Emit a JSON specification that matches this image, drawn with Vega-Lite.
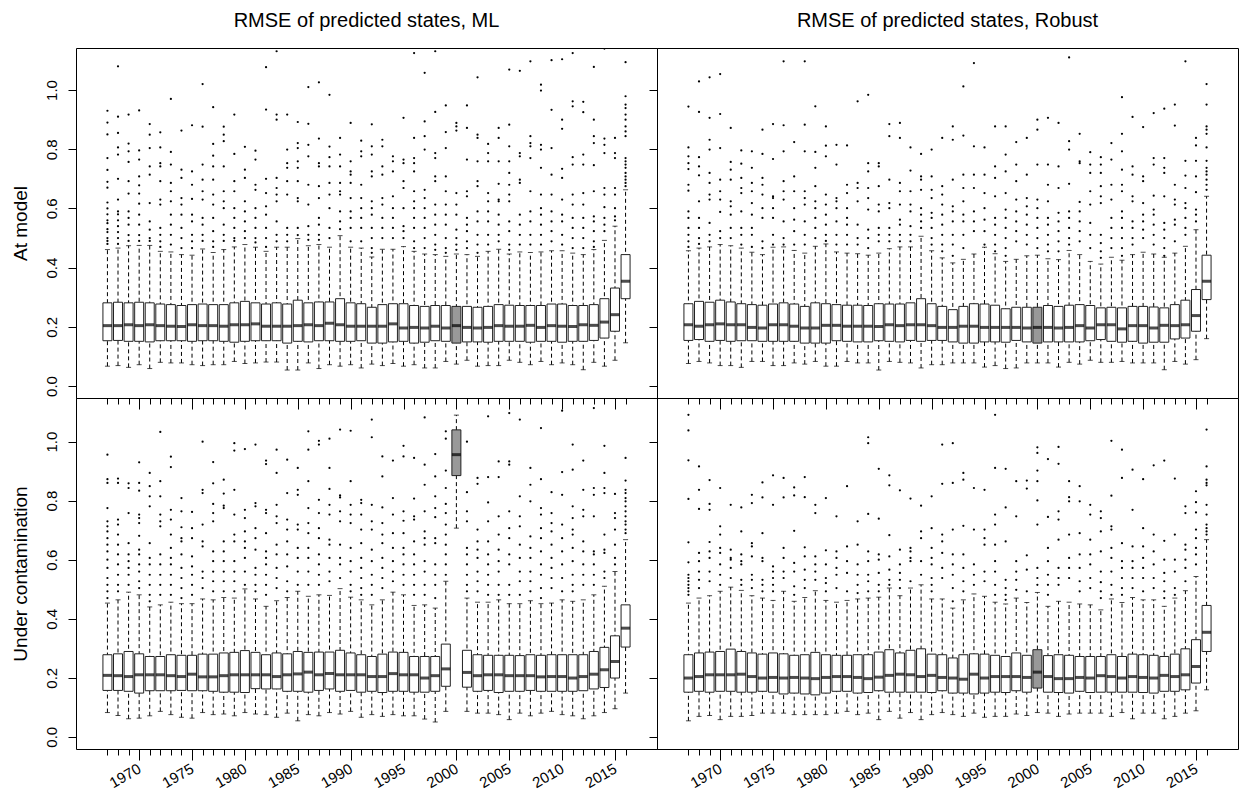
{
"$schema":"https://vega.github.io/schema/vega-lite/v6.json",
"background":"white",
"padding":{"left":10,"top":10,"right":4,"bottom":4},
"columns":2,
"spacing":0,
"bounds":"flush",
"config":{"font":"Liberation Sans","view":{"stroke":"black","strokeWidth":1},
"axis":{"domain":false,"grid":false,"tickColor":"black","labelColor":"black","labelFontSize":15,"titleColor":"black","titleFontWeight":"normal","titleFontSize":19},
"title":{"fontSize":20,"fontWeight":"normal","color":"black"}},
"datasets":{
"tl":[
{"yr":1967,"lo":0.067,"q1":0.153,"md":0.204,"q3":0.281,"hi":0.461,"o":[0.93,0.89,0.85,0.77,0.73,0.69,0.67,0.62,0.60,0.58,0.56,0.55,0.53,0.52,0.50,0.49,0.48]},
{"yr":1968,"lo":0.069,"q1":0.154,"md":0.204,"q3":0.283,"hi":0.466,"o":[1.08,0.91,0.855,0.806,0.782,0.70,0.63,0.59,0.58,0.56,0.54,0.52,0.50,0.48]},
{"yr":1969,"lo":0.063,"q1":0.151,"md":0.207,"q3":0.281,"hi":0.474,"o":[0.917,0.819,0.793,0.757,0.692,0.65,0.59,0.568,0.545,0.51,0.49]},
{"yr":1970,"lo":0.072,"q1":0.151,"md":0.204,"q3":0.283,"hi":0.475,"o":[0.931,0.796,0.765,0.708,0.678,0.65,0.616,0.579,0.545,0.51,0.49]},
{"yr":1971,"lo":0.059,"q1":0.149,"md":0.207,"q3":0.281,"hi":0.475,"o":[0.885,0.849,0.804,0.742,0.714,0.618,0.556,0.528,0.50,0.49]},
{"yr":1972,"lo":0.080,"q1":0.153,"md":0.204,"q3":0.277,"hi":0.455,"o":[0.857,0.806,0.753,0.742,0.692,0.63,0.613,0.534,0.511,0.489,0.47]},
{"yr":1973,"lo":0.078,"q1":0.153,"md":0.202,"q3":0.275,"hi":0.453,"o":[0.97,0.791,0.748,0.686,0.658,0.624,0.579,0.545,0.511,0.478]},
{"yr":1974,"lo":0.078,"q1":0.153,"md":0.201,"q3":0.272,"hi":0.444,"o":[0.863,0.731,0.703,0.635,0.613,0.579,0.534,0.50,0.466]},
{"yr":1975,"lo":0.072,"q1":0.151,"md":0.207,"q3":0.275,"hi":0.442,"o":[0.881,0.725,0.68,0.632,0.579,0.556,0.511,0.489,0.466]},
{"yr":1976,"lo":0.069,"q1":0.153,"md":0.204,"q3":0.277,"hi":0.463,"o":[1.02,0.876,0.748,0.697,0.658,0.63,0.568,0.545,0.511,0.49]},
{"yr":1977,"lo":0.072,"q1":0.153,"md":0.204,"q3":0.275,"hi":0.451,"o":[0.942,0.818,0.778,0.742,0.697,0.647,0.613,0.568,0.523,0.489,0.47]},
{"yr":1978,"lo":0.072,"q1":0.151,"md":0.202,"q3":0.275,"hi":0.461,"o":[0.876,0.849,0.827,0.742,0.658,0.624,0.601,0.545,0.511,0.49]},
{"yr":1979,"lo":0.083,"q1":0.148,"md":0.207,"q3":0.281,"hi":0.470,"o":[0.917,0.784,0.692,0.658,0.601,0.568,0.534,0.50,0.49]},
{"yr":1980,"lo":0.076,"q1":0.151,"md":0.207,"q3":0.286,"hi":0.478,"o":[0.808,0.731,0.703,0.624,0.59,0.556,0.523,0.50]},
{"yr":1981,"lo":0.078,"q1":0.153,"md":0.210,"q3":0.281,"hi":0.469,"o":[0.795,0.765,0.68,0.663,0.601,0.568,0.534,0.50,0.485]},
{"yr":1982,"lo":0.081,"q1":0.153,"md":0.202,"q3":0.277,"hi":0.455,"o":[1.077,0.934,0.70,0.652,0.607,0.579,0.534,0.50,0.47]},
{"yr":1983,"lo":0.081,"q1":0.153,"md":0.202,"q3":0.281,"hi":0.469,"o":[1.131,0.917,0.90,0.703,0.669,0.647,0.624,0.556,0.511,0.489]},
{"yr":1984,"lo":0.054,"q1":0.145,"md":0.202,"q3":0.277,"hi":0.469,"o":[0.917,0.799,0.753,0.737,0.692,0.647,0.534,0.511,0.489]},
{"yr":1985,"lo":0.054,"q1":0.151,"md":0.204,"q3":0.290,"hi":0.498,"o":[0.892,0.821,0.804,0.759,0.737,0.692,0.635,0.624,0.534,0.51]},
{"yr":1986,"lo":0.078,"q1":0.149,"md":0.207,"q3":0.281,"hi":0.474,"o":[1.01,0.886,0.815,0.776,0.68,0.613,0.54,0.511,0.494]},
{"yr":1987,"lo":0.059,"q1":0.153,"md":0.204,"q3":0.284,"hi":0.478,"o":[1.026,0.836,0.753,0.742,0.675,0.635,0.568,0.545,0.511,0.494]},
{"yr":1988,"lo":0.072,"q1":0.153,"md":0.212,"q3":0.284,"hi":0.469,"o":[0.984,0.809,0.773,0.742,0.686,0.647,0.601,0.534,0.50]},
{"yr":1989,"lo":0.067,"q1":0.151,"md":0.207,"q3":0.295,"hi":0.508,"o":[0.838,0.782,0.742,0.686,0.658,0.647,0.59,0.556,0.53]},
{"yr":1990,"lo":0.072,"q1":0.151,"md":0.202,"q3":0.281,"hi":0.469,"o":[0.889,0.759,0.725,0.714,0.686,0.635,0.59,0.568,0.534,0.489]},
{"yr":1991,"lo":0.061,"q1":0.153,"md":0.202,"q3":0.278,"hi":0.466,"o":[0.829,0.793,0.776,0.68,0.635,0.601,0.568,0.534,0.489]},
{"yr":1992,"lo":0.074,"q1":0.145,"md":0.202,"q3":0.266,"hi":0.436,"o":[0.884,0.81,0.782,0.725,0.708,0.624,0.601,0.579,0.534,0.50,0.466,0.45]},
{"yr":1993,"lo":0.069,"q1":0.145,"md":0.202,"q3":0.275,"hi":0.462,"o":[0.832,0.81,0.742,0.714,0.635,0.613,0.568,0.534,0.50]},
{"yr":1994,"lo":0.076,"q1":0.149,"md":0.210,"q3":0.278,"hi":0.462,"o":[0.776,0.759,0.725,0.641,0.601,0.568,0.534,0.50]},
{"yr":1995,"lo":0.067,"q1":0.151,"md":0.196,"q3":0.278,"hi":0.471,"o":[0.906,0.765,0.753,0.692,0.669,0.601,0.54,0.523,0.50]},
{"yr":1996,"lo":0.072,"q1":0.145,"md":0.198,"q3":0.272,"hi":0.455,"o":[1.125,0.838,0.77,0.753,0.725,0.658,0.624,0.601,0.568,0.534,0.489,0.466]},
{"yr":1997,"lo":0.061,"q1":0.148,"md":0.196,"q3":0.269,"hi":0.446,"o":[1.058,0.894,0.844,0.799,0.663,0.635,0.601,0.568,0.534,0.50,0.466]},
{"yr":1998,"lo":0.061,"q1":0.153,"md":0.202,"q3":0.272,"hi":0.444,"o":[1.131,0.926,0.787,0.77,0.708,0.692,0.613,0.579,0.545,0.511,0.478,0.46]},
{"yr":1999,"lo":0.083,"q1":0.151,"md":0.196,"q3":0.272,"hi":0.438,"o":[0.948,0.858,0.804,0.708,0.658,0.613,0.579,0.545,0.50,0.466,0.45]},
{"yr":2000,"lo":0.074,"q1":0.145,"md":0.204,"q3":0.269,"hi":0.446,"o":[0.889,0.877,0.863,0.652,0.613,0.579,0.528,0.50,0.478,0.46]},
{"yr":2001,"lo":0.087,"q1":0.149,"md":0.198,"q3":0.269,"hi":0.444,"o":[0.948,0.872,0.765,0.658,0.641,0.568,0.545,0.523,0.489,0.466]},
{"yr":2002,"lo":0.067,"q1":0.149,"md":0.196,"q3":0.266,"hi":0.438,"o":[1.043,0.849,0.838,0.759,0.692,0.675,0.59,0.556,0.511,0.478,0.45]},
{"yr":2003,"lo":0.069,"q1":0.148,"md":0.198,"q3":0.269,"hi":0.455,"o":[0.818,0.787,0.759,0.652,0.624,0.59,0.556,0.511,0.478]},
{"yr":2004,"lo":0.069,"q1":0.151,"md":0.204,"q3":0.275,"hi":0.462,"o":[0.872,0.838,0.759,0.683,0.63,0.624,0.579,0.545,0.511,0.489]},
{"yr":2005,"lo":0.087,"q1":0.151,"md":0.202,"q3":0.273,"hi":0.446,"o":[1.069,0.883,0.81,0.759,0.72,0.68,0.647,0.624,0.556,0.523,0.478,0.46]},
{"yr":2006,"lo":0.080,"q1":0.151,"md":0.202,"q3":0.272,"hi":0.453,"o":[1.065,0.787,0.776,0.697,0.686,0.579,0.545,0.511,0.478]},
{"yr":2007,"lo":0.072,"q1":0.148,"md":0.205,"q3":0.272,"hi":0.451,"o":[1.097,0.844,0.821,0.81,0.77,0.658,0.59,0.556,0.511,0.478]},
{"yr":2008,"lo":0.083,"q1":0.151,"md":0.198,"q3":0.272,"hi":0.453,"o":[1.018,0.998,0.815,0.799,0.737,0.647,0.601,0.579,0.545,0.511,0.478]},
{"yr":2009,"lo":0.072,"q1":0.151,"md":0.204,"q3":0.277,"hi":0.457,"o":[1.101,0.933,0.804,0.714,0.647,0.59,0.556,0.523,0.489]},
{"yr":2010,"lo":0.078,"q1":0.148,"md":0.202,"q3":0.277,"hi":0.457,"o":[1.104,0.90,0.869,0.734,0.703,0.63,0.579,0.556,0.511,0.478]},
{"yr":2011,"lo":0.072,"q1":0.151,"md":0.201,"q3":0.272,"hi":0.449,"o":[1.125,0.962,0.945,0.773,0.748,0.647,0.613,0.568,0.534,0.50,0.466]},
{"yr":2012,"lo":0.055,"q1":0.151,"md":0.207,"q3":0.272,"hi":0.444,"o":[0.96,0.925,0.782,0.748,0.652,0.613,0.568,0.534,0.50,0.466]},
{"yr":2013,"lo":0.080,"q1":0.154,"md":0.205,"q3":0.275,"hi":0.461,"o":[1.078,0.90,0.844,0.821,0.746,0.658,0.573,0.556,0.523,0.489,0.47]},
{"yr":2014,"lo":0.067,"q1":0.162,"md":0.216,"q3":0.295,"hi":0.492,"o":[1.14,0.836,0.815,0.787,0.669,0.647,0.604,0.568,0.545,0.523]},
{"yr":2015,"lo":0.087,"q1":0.185,"md":0.241,"q3":0.331,"hi":0.540,"o":[0.838,0.787,0.77,0.669,0.647,0.601,0.573,0.56]},
{"yr":2016,"lo":0.146,"q1":0.295,"md":0.354,"q3":0.444,"hi":0.663,"o":[1.094,0.979,0.951,0.939,0.917,0.90,0.877,0.86,0.844,0.77,0.759,0.748,0.737,0.72,0.708,0.697,0.686,0.675]}
],
"tr":[
{"yr":1967,"lo":0.076,"q1":0.154,"md":0.207,"q3":0.278,"hi":0.457,"o":[0.944,0.806,0.776,0.753,0.733,0.68,0.66,0.59,0.568,0.534,0.511,0.489,0.47]},
{"yr":1968,"lo":0.083,"q1":0.157,"md":0.202,"q3":0.286,"hi":0.466,"o":[1.029,0.926,0.773,0.742,0.712,0.624,0.568,0.534,0.50,0.48]},
{"yr":1969,"lo":0.078,"q1":0.151,"md":0.207,"q3":0.283,"hi":0.470,"o":[1.043,0.906,0.832,0.799,0.72,0.686,0.647,0.63,0.551,0.511,0.489]},
{"yr":1970,"lo":0.069,"q1":0.154,"md":0.210,"q3":0.290,"hi":0.478,"o":[1.054,0.919,0.804,0.697,0.658,0.63,0.588,0.523,0.50]},
{"yr":1971,"lo":0.069,"q1":0.151,"md":0.207,"q3":0.284,"hi":0.474,"o":[0.872,0.757,0.731,0.697,0.624,0.607,0.579,0.534,0.50]},
{"yr":1972,"lo":0.063,"q1":0.153,"md":0.207,"q3":0.278,"hi":0.466,"o":[0.796,0.751,0.703,0.669,0.652,0.59,0.534,0.511,0.478]},
{"yr":1973,"lo":0.083,"q1":0.153,"md":0.198,"q3":0.275,"hi":0.452,"o":[0.793,0.737,0.686,0.658,0.618,0.579,0.534,0.511,0.47]},
{"yr":1974,"lo":0.083,"q1":0.151,"md":0.196,"q3":0.273,"hi":0.444,"o":[0.866,0.784,0.703,0.68,0.647,0.601,0.568,0.489,0.466]},
{"yr":1975,"lo":0.069,"q1":0.151,"md":0.207,"q3":0.277,"hi":0.469,"o":[0.885,0.767,0.641,0.635,0.601,0.568,0.511,0.478]},
{"yr":1976,"lo":0.069,"q1":0.151,"md":0.207,"q3":0.281,"hi":0.470,"o":[1.097,0.881,0.793,0.692,0.658,0.63,0.556,0.50,0.478]},
{"yr":1977,"lo":0.078,"q1":0.151,"md":0.202,"q3":0.277,"hi":0.458,"o":[0.824,0.708,0.658,0.601,0.562,0.523,0.478]},
{"yr":1978,"lo":0.074,"q1":0.145,"md":0.196,"q3":0.269,"hi":0.449,"o":[1.097,0.883,0.793,0.658,0.635,0.613,0.556,0.511,0.478]},
{"yr":1979,"lo":0.083,"q1":0.145,"md":0.196,"q3":0.281,"hi":0.472,"o":[0.945,0.791,0.737,0.675,0.624,0.601,0.568,0.534,0.50]},
{"yr":1980,"lo":0.067,"q1":0.145,"md":0.205,"q3":0.278,"hi":0.480,"o":[0.877,0.812,0.776,0.647,0.613,0.579,0.545,0.511,0.49]},
{"yr":1981,"lo":0.067,"q1":0.153,"md":0.205,"q3":0.275,"hi":0.453,"o":[0.815,0.748,0.635,0.624,0.601,0.556,0.511,0.478]},
{"yr":1982,"lo":0.083,"q1":0.151,"md":0.202,"q3":0.273,"hi":0.449,"o":[0.813,0.68,0.652,0.601,0.568,0.545,0.511,0.478]},
{"yr":1983,"lo":0.078,"q1":0.149,"md":0.202,"q3":0.273,"hi":0.447,"o":[0.962,0.686,0.669,0.624,0.545,0.50,0.478]},
{"yr":1984,"lo":0.078,"q1":0.149,"md":0.202,"q3":0.272,"hi":0.442,"o":[0.984,0.753,0.725,0.669,0.635,0.596,0.528,0.50,0.466]},
{"yr":1985,"lo":0.054,"q1":0.153,"md":0.201,"q3":0.278,"hi":0.449,"o":[0.753,0.742,0.675,0.613,0.59,0.534,0.511,0.489]},
{"yr":1986,"lo":0.083,"q1":0.151,"md":0.207,"q3":0.277,"hi":0.464,"o":[0.885,0.844,0.697,0.618,0.601,0.534,0.511,0.489]},
{"yr":1987,"lo":0.080,"q1":0.149,"md":0.204,"q3":0.277,"hi":0.470,"o":[0.889,0.838,0.686,0.658,0.613,0.562,0.545,0.511,0.489]},
{"yr":1988,"lo":0.078,"q1":0.154,"md":0.207,"q3":0.281,"hi":0.470,"o":[0.806,0.728,0.658,0.613,0.59,0.54,0.511,0.489]},
{"yr":1989,"lo":0.061,"q1":0.151,"md":0.207,"q3":0.295,"hi":0.506,"o":[0.784,0.708,0.697,0.663,0.601,0.579,0.556,0.534]},
{"yr":1990,"lo":0.072,"q1":0.154,"md":0.204,"q3":0.278,"hi":0.457,"o":[0.799,0.708,0.663,0.635,0.585,0.568,0.534,0.50,0.478]},
{"yr":1991,"lo":0.072,"q1":0.154,"md":0.198,"q3":0.269,"hi":0.433,"o":[0.838,0.675,0.647,0.613,0.579,0.545,0.511,0.478,0.455]},
{"yr":1992,"lo":0.078,"q1":0.149,"md":0.198,"q3":0.258,"hi":0.416,"o":[0.877,0.832,0.697,0.607,0.59,0.556,0.511,0.478,0.44]},
{"yr":1993,"lo":0.078,"q1":0.145,"md":0.202,"q3":0.269,"hi":0.428,"o":[1.012,0.846,0.714,0.669,0.624,0.579,0.556,0.511,0.466]},
{"yr":1994,"lo":0.078,"q1":0.145,"md":0.202,"q3":0.278,"hi":0.446,"o":[1.091,0.81,0.714,0.669,0.59,0.556,0.523]},
{"yr":1995,"lo":0.064,"q1":0.149,"md":0.198,"q3":0.277,"hi":0.469,"o":[0.806,0.714,0.652,0.601,0.562,0.523,0.478]},
{"yr":1996,"lo":0.069,"q1":0.149,"md":0.198,"q3":0.273,"hi":0.447,"o":[0.877,0.742,0.703,0.641,0.568,0.545,0.511,0.478,0.455]},
{"yr":1997,"lo":0.059,"q1":0.148,"md":0.198,"q3":0.261,"hi":0.421,"o":[0.877,0.782,0.725,0.652,0.596,0.568,0.534,0.50,0.466,0.44]},
{"yr":1998,"lo":0.061,"q1":0.154,"md":0.198,"q3":0.266,"hi":0.428,"o":[0.824,0.748,0.692,0.63,0.59,0.556,0.523,0.489]},
{"yr":1999,"lo":0.078,"q1":0.149,"md":0.196,"q3":0.266,"hi":0.440,"o":[0.838,0.714,0.635,0.607,0.579,0.545,0.511,0.478]},
{"yr":2000,"lo":0.078,"q1":0.145,"md":0.198,"q3":0.266,"hi":0.442,"o":[0.90,0.866,0.748,0.63,0.601,0.568,0.534,0.50,0.466]},
{"yr":2001,"lo":0.078,"q1":0.149,"md":0.198,"q3":0.272,"hi":0.430,"o":[0.906,0.748,0.68,0.624,0.568,0.545,0.511,0.478,0.455]},
{"yr":2002,"lo":0.064,"q1":0.149,"md":0.196,"q3":0.269,"hi":0.427,"o":[0.889,0.742,0.669,0.585,0.556,0.523,0.489,0.455]},
{"yr":2003,"lo":0.080,"q1":0.149,"md":0.198,"q3":0.273,"hi":0.458,"o":[1.11,0.827,0.799,0.683,0.59,0.568,0.534,0.50,0.478]},
{"yr":2004,"lo":0.074,"q1":0.149,"md":0.204,"q3":0.275,"hi":0.444,"o":[0.852,0.759,0.753,0.622,0.59,0.556,0.523,0.489]},
{"yr":2005,"lo":0.087,"q1":0.153,"md":0.196,"q3":0.272,"hi":0.421,"o":[0.79,0.748,0.72,0.658,0.613,0.551,0.511,0.466]},
{"yr":2006,"lo":0.080,"q1":0.157,"md":0.207,"q3":0.264,"hi":0.412,"o":[0.773,0.748,0.72,0.675,0.641,0.618,0.511,0.483,0.455,0.433]},
{"yr":2007,"lo":0.080,"q1":0.151,"md":0.207,"q3":0.266,"hi":0.435,"o":[0.821,0.765,0.68,0.63,0.568,0.534,0.50,0.466]},
{"yr":2008,"lo":0.083,"q1":0.148,"md":0.193,"q3":0.264,"hi":0.425,"o":[0.976,0.852,0.793,0.731,0.68,0.658,0.59,0.568,0.534,0.50,0.466,0.44]},
{"yr":2009,"lo":0.078,"q1":0.151,"md":0.204,"q3":0.269,"hi":0.444,"o":[0.909,0.742,0.714,0.641,0.624,0.556,0.534,0.50,0.478]},
{"yr":2010,"lo":0.078,"q1":0.145,"md":0.204,"q3":0.269,"hi":0.452,"o":[0.875,0.708,0.692,0.618,0.579,0.556,0.528,0.50]},
{"yr":2011,"lo":0.078,"q1":0.148,"md":0.196,"q3":0.267,"hi":0.446,"o":[0.922,0.77,0.748,0.643,0.596,0.579,0.545,0.511,0.478]},
{"yr":2012,"lo":0.055,"q1":0.148,"md":0.205,"q3":0.264,"hi":0.435,"o":[0.937,0.77,0.737,0.72,0.641,0.551,0.528,0.50,0.466,0.44]},
{"yr":2013,"lo":0.083,"q1":0.159,"md":0.204,"q3":0.275,"hi":0.449,"o":[0.951,0.88,0.68,0.63,0.613,0.562,0.545,0.489]},
{"yr":2014,"lo":0.074,"q1":0.162,"md":0.207,"q3":0.290,"hi":0.472,"o":[1.097,0.761,0.711,0.669,0.618,0.601,0.568,0.534,0.511]},
{"yr":2015,"lo":0.089,"q1":0.185,"md":0.238,"q3":0.326,"hi":0.528,"o":[0.838,0.813,0.761,0.708,0.655,0.596,0.579,0.556]},
{"yr":2016,"lo":0.160,"q1":0.292,"md":0.354,"q3":0.442,"hi":0.641,"o":[1.02,0.951,0.877,0.866,0.852,0.806,0.761,0.737,0.725,0.714,0.697,0.68,0.663]}
],
"bl":[
{"yr":1967,"lo":0.082,"q1":0.157,"md":0.208,"q3":0.278,"hi":0.453,"o":[0.956,0.873,0.86,0.775,0.73,0.713,0.696,0.673,0.651,0.628,0.60,0.572,0.538,0.515,0.493,0.47]},
{"yr":1968,"lo":0.072,"q1":0.157,"md":0.207,"q3":0.281,"hi":0.464,"o":[0.875,0.86,0.736,0.719,0.685,0.651,0.618,0.584,0.549,0.515,0.493]},
{"yr":1969,"lo":0.061,"q1":0.154,"md":0.204,"q3":0.289,"hi":0.490,"o":[0.859,0.843,0.758,0.656,0.618,0.595,0.572,0.549,0.515]},
{"yr":1970,"lo":0.063,"q1":0.148,"md":0.210,"q3":0.281,"hi":0.481,"o":[0.93,0.86,0.834,0.753,0.741,0.724,0.681,0.634,0.618,0.584,0.56,0.527,0.504]},
{"yr":1971,"lo":0.071,"q1":0.156,"md":0.210,"q3":0.272,"hi":0.440,"o":[0.894,0.849,0.815,0.781,0.656,0.606,0.584,0.549,0.515,0.481,0.459]},
{"yr":1972,"lo":0.086,"q1":0.156,"md":0.210,"q3":0.272,"hi":0.447,"o":[1.033,0.866,0.815,0.753,0.73,0.713,0.618,0.584,0.549,0.515,0.481]},
{"yr":1973,"lo":0.075,"q1":0.156,"md":0.207,"q3":0.278,"hi":0.456,"o":[0.949,0.914,0.769,0.736,0.685,0.64,0.606,0.584,0.549,0.515,0.481]},
{"yr":1974,"lo":0.066,"q1":0.157,"md":0.204,"q3":0.276,"hi":0.451,"o":[0.809,0.764,0.71,0.673,0.662,0.618,0.572,0.538,0.504,0.47]},
{"yr":1975,"lo":0.063,"q1":0.156,"md":0.212,"q3":0.276,"hi":0.451,"o":[0.762,0.707,0.673,0.611,0.577,0.549,0.515,0.481]},
{"yr":1976,"lo":0.082,"q1":0.156,"md":0.203,"q3":0.280,"hi":0.467,"o":[1.0,0.837,0.826,0.719,0.662,0.645,0.56,0.538,0.504]},
{"yr":1977,"lo":0.075,"q1":0.154,"md":0.203,"q3":0.280,"hi":0.464,"o":[0.931,0.859,0.789,0.758,0.73,0.628,0.595,0.56,0.527,0.493]},
{"yr":1978,"lo":0.077,"q1":0.151,"md":0.207,"q3":0.284,"hi":0.472,"o":[0.871,0.824,0.783,0.775,0.662,0.628,0.595,0.56,0.527,0.493]},
{"yr":1979,"lo":0.071,"q1":0.151,"md":0.210,"q3":0.286,"hi":0.470,"o":[0.995,0.97,0.837,0.753,0.685,0.662,0.595,0.56,0.527,0.493]},
{"yr":1980,"lo":0.082,"q1":0.150,"md":0.210,"q3":0.292,"hi":0.501,"o":[0.975,0.769,0.741,0.696,0.662,0.64,0.606,0.56,0.515]},
{"yr":1981,"lo":0.077,"q1":0.163,"md":0.210,"q3":0.286,"hi":0.467,"o":[0.99,0.792,0.781,0.707,0.673,0.634,0.572,0.549,0.515,0.493]},
{"yr":1982,"lo":0.075,"q1":0.162,"md":0.210,"q3":0.278,"hi":0.442,"o":[0.936,0.924,0.769,0.758,0.69,0.628,0.606,0.584,0.549,0.515,0.481]},
{"yr":1983,"lo":0.066,"q1":0.162,"md":0.204,"q3":0.284,"hi":0.461,"o":[0.973,0.894,0.786,0.747,0.724,0.651,0.618,0.572,0.538,0.504]},
{"yr":1984,"lo":0.080,"q1":0.154,"md":0.210,"q3":0.281,"hi":0.472,"o":[0.939,0.826,0.736,0.702,0.662,0.618,0.577,0.527,0.493]},
{"yr":1985,"lo":0.054,"q1":0.154,"md":0.213,"q3":0.289,"hi":0.493,"o":[0.911,0.837,0.82,0.719,0.702,0.64,0.606,0.56,0.515]},
{"yr":1986,"lo":0.075,"q1":0.151,"md":0.219,"q3":0.286,"hi":0.476,"o":[1.035,0.973,0.866,0.775,0.724,0.69,0.64,0.606,0.56,0.515]},
{"yr":1987,"lo":0.071,"q1":0.157,"md":0.210,"q3":0.287,"hi":0.481,"o":[1.003,0.99,0.803,0.758,0.707,0.673,0.618,0.584,0.549,0.515]},
{"yr":1988,"lo":0.082,"q1":0.162,"md":0.214,"q3":0.287,"hi":0.479,"o":[1.01,0.911,0.84,0.786,0.753,0.668,0.651,0.606,0.56,0.527]},
{"yr":1989,"lo":0.077,"q1":0.154,"md":0.210,"q3":0.293,"hi":0.502,"o":[1.041,0.818,0.811,0.764,0.73,0.651,0.606,0.584,0.538]},
{"yr":1990,"lo":0.086,"q1":0.157,"md":0.210,"q3":0.284,"hi":0.473,"o":[1.037,0.866,0.786,0.753,0.724,0.64,0.595,0.56,0.515,0.493]},
{"yr":1991,"lo":0.066,"q1":0.151,"md":0.210,"q3":0.278,"hi":0.464,"o":[0.803,0.792,0.753,0.702,0.656,0.606,0.572,0.538,0.504,0.481]},
{"yr":1992,"lo":0.075,"q1":0.154,"md":0.204,"q3":0.272,"hi":0.447,"o":[1.075,1.015,0.786,0.73,0.702,0.634,0.595,0.549,0.515,0.481]},
{"yr":1993,"lo":0.069,"q1":0.150,"md":0.204,"q3":0.280,"hi":0.464,"o":[0.95,0.882,0.777,0.724,0.685,0.656,0.606,0.572,0.538,0.504]},
{"yr":1994,"lo":0.075,"q1":0.154,"md":0.214,"q3":0.287,"hi":0.490,"o":[0.936,0.809,0.753,0.69,0.64,0.595,0.56,0.527]},
{"yr":1995,"lo":0.071,"q1":0.154,"md":0.210,"q3":0.286,"hi":0.481,"o":[0.986,0.95,0.764,0.732,0.69,0.64,0.618,0.584,0.549,0.515]},
{"yr":1996,"lo":0.071,"q1":0.151,"md":0.210,"q3":0.272,"hi":0.445,"o":[0.945,0.807,0.747,0.736,0.662,0.618,0.584,0.549,0.515,0.481]},
{"yr":1997,"lo":0.060,"q1":0.151,"md":0.199,"q3":0.272,"hi":0.447,"o":[1.082,0.922,0.854,0.764,0.696,0.673,0.651,0.595,0.56,0.515,0.481]},
{"yr":1998,"lo":0.050,"q1":0.154,"md":0.207,"q3":0.272,"hi":0.436,"o":[0.958,0.882,0.815,0.775,0.744,0.673,0.656,0.584,0.549,0.515,0.47]},
{"yr":1999,"lo":0.086,"q1":0.171,"md":0.230,"q3":0.314,"hi":0.527,"o":[1.035,1.01,0.902,0.843,0.789,0.758,0.719,0.685,0.651,0.618,0.584,0.549]},
{"yr":2000,"lo":0.707,"q1":0.885,"md":0.956,"q3":1.04,"hi":1.09,"o":[]},
{"yr":2001,"lo":0.086,"q1":0.168,"md":0.218,"q3":0.293,"hi":0.470,"o":[1.0,0.829,0.764,0.73,0.64,0.618,0.584,0.549,0.515,0.493]},
{"yr":2002,"lo":0.080,"q1":0.154,"md":0.207,"q3":0.278,"hi":0.456,"o":[0.877,0.857,0.702,0.662,0.634,0.606,0.56,0.527,0.493]},
{"yr":2003,"lo":0.080,"q1":0.157,"md":0.210,"q3":0.276,"hi":0.456,"o":[1.086,0.88,0.794,0.73,0.662,0.618,0.584,0.549,0.515,0.481]},
{"yr":2004,"lo":0.075,"q1":0.150,"md":0.210,"q3":0.276,"hi":0.464,"o":[0.933,0.88,0.747,0.685,0.634,0.595,0.56,0.515,0.481]},
{"yr":2005,"lo":0.058,"q1":0.154,"md":0.207,"q3":0.276,"hi":0.451,"o":[1.097,0.933,0.922,0.764,0.707,0.673,0.618,0.584,0.515,0.481]},
{"yr":2006,"lo":0.080,"q1":0.154,"md":0.207,"q3":0.275,"hi":0.451,"o":[1.075,0.815,0.747,0.713,0.651,0.606,0.56,0.527,0.481]},
{"yr":2007,"lo":0.071,"q1":0.157,"md":0.207,"q3":0.278,"hi":0.461,"o":[0.911,0.854,0.798,0.679,0.64,0.606,0.56,0.527,0.493]},
{"yr":2008,"lo":0.080,"q1":0.154,"md":0.203,"q3":0.276,"hi":0.451,"o":[1.046,0.873,0.775,0.753,0.707,0.673,0.628,0.584,0.549,0.504,0.47]},
{"yr":2009,"lo":0.086,"q1":0.154,"md":0.204,"q3":0.278,"hi":0.453,"o":[0.829,0.758,0.724,0.696,0.651,0.606,0.572,0.538,0.504]},
{"yr":2010,"lo":0.075,"q1":0.154,"md":0.204,"q3":0.278,"hi":0.464,"o":[1.105,0.897,0.82,0.719,0.673,0.628,0.584,0.538,0.493]},
{"yr":2011,"lo":0.071,"q1":0.154,"md":0.199,"q3":0.278,"hi":0.459,"o":[0.99,0.905,0.781,0.741,0.702,0.685,0.64,0.595,0.549,0.515,0.493]},
{"yr":2012,"lo":0.061,"q1":0.156,"md":0.204,"q3":0.278,"hi":0.464,"o":[0.936,0.837,0.769,0.747,0.662,0.628,0.584,0.549,0.515]},
{"yr":2013,"lo":0.071,"q1":0.162,"md":0.212,"q3":0.289,"hi":0.481,"o":[1.114,0.843,0.82,0.747,0.628,0.618,0.584,0.549,0.515]},
{"yr":2014,"lo":0.082,"q1":0.167,"md":0.227,"q3":0.303,"hi":0.510,"o":[0.986,0.894,0.843,0.826,0.685,0.634,0.623,0.56,0.538]},
{"yr":2015,"lo":0.095,"q1":0.199,"md":0.255,"q3":0.342,"hi":0.560,"o":[0.823,0.758,0.741,0.702,0.651,0.606,0.584]},
{"yr":2016,"lo":0.148,"q1":0.304,"md":0.368,"q3":0.447,"hi":0.668,"o":[0.945,0.868,0.837,0.826,0.809,0.798,0.781,0.764,0.747,0.73,0.719,0.702,0.69]}
],
"br":[
{"yr":1967,"lo":0.054,"q1":0.151,"md":0.199,"q3":0.278,"hi":0.453,"o":[1.091,1.038,0.937,0.806,0.659,0.591,0.549,0.538,0.527,0.515,0.504,0.493,0.481]},
{"yr":1968,"lo":0.069,"q1":0.154,"md":0.204,"q3":0.284,"hi":0.470,"o":[0.916,0.837,0.772,0.623,0.595,0.56,0.532,0.504]},
{"yr":1969,"lo":0.072,"q1":0.151,"md":0.210,"q3":0.287,"hi":0.478,"o":[0.87,0.789,0.769,0.66,0.628,0.606,0.56,0.527]},
{"yr":1970,"lo":0.058,"q1":0.154,"md":0.210,"q3":0.289,"hi":0.493,"o":[0.843,0.713,0.685,0.64,0.623,0.584,0.549,0.515]},
{"yr":1971,"lo":0.069,"q1":0.154,"md":0.210,"q3":0.297,"hi":0.507,"o":[0.786,0.634,0.606,0.60,0.572,0.538]},
{"yr":1972,"lo":0.069,"q1":0.151,"md":0.212,"q3":0.289,"hi":0.496,"o":[0.777,0.696,0.618,0.595,0.584,0.532,0.515]},
{"yr":1973,"lo":0.072,"q1":0.151,"md":0.204,"q3":0.284,"hi":0.478,"o":[0.82,0.792,0.656,0.645,0.611,0.549,0.532,0.504]},
{"yr":1974,"lo":0.080,"q1":0.154,"md":0.199,"q3":0.280,"hi":0.470,"o":[0.862,0.811,0.69,0.606,0.595,0.532,0.515,0.493]},
{"yr":1975,"lo":0.080,"q1":0.151,"md":0.201,"q3":0.284,"hi":0.462,"o":[0.886,0.786,0.577,0.56,0.538,0.515,0.493]},
{"yr":1976,"lo":0.080,"q1":0.145,"md":0.199,"q3":0.281,"hi":0.493,"o":[0.877,0.811,0.64,0.606,0.56,0.538]},
{"yr":1977,"lo":0.075,"q1":0.148,"md":0.201,"q3":0.276,"hi":0.459,"o":[0.845,0.818,0.698,0.589,0.56,0.51,0.481]},
{"yr":1978,"lo":0.075,"q1":0.145,"md":0.199,"q3":0.278,"hi":0.472,"o":[0.88,0.812,0.642,0.611,0.566,0.532,0.504]},
{"yr":1979,"lo":0.075,"q1":0.142,"md":0.197,"q3":0.286,"hi":0.495,"o":[0.786,0.758,0.611,0.584,0.56,0.532]},
{"yr":1980,"lo":0.075,"q1":0.148,"md":0.201,"q3":0.278,"hi":0.462,"o":[0.809,0.632,0.584,0.538,0.521,0.493]},
{"yr":1981,"lo":0.080,"q1":0.154,"md":0.204,"q3":0.276,"hi":0.456,"o":[0.747,0.628,0.606,0.572,0.549,0.504]},
{"yr":1982,"lo":0.086,"q1":0.154,"md":0.204,"q3":0.276,"hi":0.462,"o":[0.849,0.645,0.595,0.555,0.493]},
{"yr":1983,"lo":0.075,"q1":0.148,"md":0.201,"q3":0.278,"hi":0.467,"o":[0.73,0.651,0.584,0.549,0.515,0.487]},
{"yr":1984,"lo":0.080,"q1":0.150,"md":0.197,"q3":0.278,"hi":0.470,"o":[1.015,0.995,0.755,0.628,0.595,0.549,0.527,0.493]},
{"yr":1985,"lo":0.058,"q1":0.156,"md":0.202,"q3":0.287,"hi":0.473,"o":[0.908,0.739,0.618,0.60,0.555,0.515,0.493]},
{"yr":1986,"lo":0.086,"q1":0.151,"md":0.208,"q3":0.295,"hi":0.504,"o":[0.886,0.852,0.683,0.611,0.566,0.532,0.515]},
{"yr":1987,"lo":0.063,"q1":0.151,"md":0.212,"q3":0.284,"hi":0.478,"o":[0.835,0.634,0.584,0.555,0.532,0.504]},
{"yr":1988,"lo":0.082,"q1":0.151,"md":0.210,"q3":0.293,"hi":0.504,"o":[0.807,0.64,0.628,0.606,0.595,0.527]},
{"yr":1989,"lo":0.058,"q1":0.151,"md":0.204,"q3":0.298,"hi":0.515,"o":[0.783,0.696,0.673,0.595,0.549]},
{"yr":1990,"lo":0.075,"q1":0.150,"md":0.208,"q3":0.280,"hi":0.467,"o":[0.815,0.707,0.64,0.606,0.584,0.538,0.515,0.493]},
{"yr":1991,"lo":0.082,"q1":0.156,"md":0.201,"q3":0.278,"hi":0.467,"o":[0.99,0.857,0.685,0.662,0.623,0.572,0.538]},
{"yr":1992,"lo":0.075,"q1":0.148,"md":0.199,"q3":0.267,"hi":0.436,"o":[0.995,0.86,0.702,0.618,0.584,0.549,0.504,0.459]},
{"yr":1993,"lo":0.069,"q1":0.148,"md":0.195,"q3":0.278,"hi":0.464,"o":[0.894,0.871,0.715,0.618,0.572,0.527,0.493]},
{"yr":1994,"lo":0.080,"q1":0.145,"md":0.212,"q3":0.281,"hi":0.484,"o":[0.843,0.702,0.584,0.549,0.515]},
{"yr":1995,"lo":0.066,"q1":0.148,"md":0.199,"q3":0.280,"hi":0.476,"o":[0.837,0.702,0.673,0.651,0.56,0.527]},
{"yr":1996,"lo":0.069,"q1":0.151,"md":0.204,"q3":0.276,"hi":0.456,"o":[1.091,0.911,0.753,0.719,0.651,0.595,0.56,0.515,0.481]},
{"yr":1997,"lo":0.069,"q1":0.150,"md":0.204,"q3":0.272,"hi":0.450,"o":[0.908,0.777,0.662,0.532,0.504,0.481,0.464]},
{"yr":1998,"lo":0.077,"q1":0.156,"md":0.204,"q3":0.284,"hi":0.470,"o":[0.866,0.747,0.595,0.56,0.532,0.498]},
{"yr":1999,"lo":0.072,"q1":0.151,"md":0.201,"q3":0.276,"hi":0.455,"o":[0.868,0.841,0.615,0.566,0.493]},
{"yr":2000,"lo":0.082,"q1":0.165,"md":0.219,"q3":0.295,"hi":0.489,"o":[0.981,0.962,0.902,0.866,0.801,0.719,0.572,0.538,0.515]},
{"yr":2001,"lo":0.080,"q1":0.151,"md":0.204,"q3":0.275,"hi":0.442,"o":[0.941,0.745,0.64,0.595,0.549,0.515,0.481]},
{"yr":2002,"lo":0.069,"q1":0.150,"md":0.197,"q3":0.278,"hi":0.459,"o":[0.982,0.925,0.764,0.736,0.668,0.572,0.538,0.515]},
{"yr":2003,"lo":0.077,"q1":0.148,"md":0.197,"q3":0.276,"hi":0.456,"o":[0.866,0.812,0.798,0.685,0.606,0.572,0.538]},
{"yr":2004,"lo":0.080,"q1":0.154,"md":0.201,"q3":0.272,"hi":0.450,"o":[0.849,0.798,0.69,0.618,0.572,0.527,0.493]},
{"yr":2005,"lo":0.080,"q1":0.150,"md":0.199,"q3":0.272,"hi":0.447,"o":[0.786,0.753,0.668,0.618,0.584,0.538,0.504]},
{"yr":2006,"lo":0.080,"q1":0.151,"md":0.207,"q3":0.272,"hi":0.430,"o":[0.764,0.741,0.696,0.628,0.56,0.524,0.493,0.47]},
{"yr":2007,"lo":0.069,"q1":0.151,"md":0.204,"q3":0.278,"hi":0.467,"o":[1.003,0.817,0.713,0.702,0.64,0.606,0.56,0.515,0.481]},
{"yr":2008,"lo":0.082,"q1":0.151,"md":0.199,"q3":0.272,"hi":0.455,"o":[0.973,0.877,0.656,0.595,0.572,0.538,0.504,0.481]},
{"yr":2009,"lo":0.061,"q1":0.151,"md":0.204,"q3":0.280,"hi":0.472,"o":[0.905,0.769,0.645,0.595,0.572,0.538,0.504]},
{"yr":2010,"lo":0.080,"q1":0.150,"md":0.201,"q3":0.278,"hi":0.464,"o":[0.873,0.707,0.645,0.606,0.572,0.538,0.493]},
{"yr":2011,"lo":0.080,"q1":0.148,"md":0.199,"q3":0.276,"hi":0.464,"o":[0.92,0.685,0.628,0.584,0.538,0.504]},
{"yr":2012,"lo":0.061,"q1":0.154,"md":0.208,"q3":0.272,"hi":0.442,"o":[0.936,0.664,0.60,0.555,0.527,0.493,0.47]},
{"yr":2013,"lo":0.069,"q1":0.154,"md":0.204,"q3":0.280,"hi":0.470,"o":[0.875,0.685,0.60,0.56,0.504,0.481]},
{"yr":2014,"lo":0.080,"q1":0.159,"md":0.210,"q3":0.298,"hi":0.495,"o":[0.781,0.758,0.651,0.634,0.60,0.572,0.527]},
{"yr":2015,"lo":0.088,"q1":0.182,"md":0.238,"q3":0.329,"hi":0.543,"o":[0.832,0.795,0.76,0.702,0.673,0.64,0.618,0.584]},
{"yr":2016,"lo":0.159,"q1":0.289,"md":0.354,"q3":0.445,"hi":0.668,"o":[1.041,0.916,0.871,0.86,0.852,0.786,0.753,0.719,0.707,0.696,0.685]}
]
},
"concat":[
{"width":581,"height":350,"title":{"text":"RMSE of predicted states, ML","offset":17},"data":{"name":"tl"},
"encoding":{"x":{"field":"yr","type":"quantitative","scale":{"domain":[1964.5,2018.5],"nice":false,"zero":false},"axis":{"title":null,"values":[1967,1968,1969,1970,1971,1972,1973,1974,1975,1976,1977,1978,1979,1980,1981,1982,1983,1984,1985,1986,1987,1988,1989,1990,1991,1992,1993,1994,1995,1996,1997,1998,1999,2000,2001,2002,2003,2004,2005,2006,2007,2008,2009,2010,2011,2012,2013,2014,2015,2016],"labels":false,"tickSize":{"condition":{"test":"datum.value % 5 === 0","value":11},"value":6}}}},
"layer":[
{"mark":{"type":"rule","strokeDash":[4,3],"color":"black","strokeWidth":1},"encoding":{"y":{"field":"lo","type":"quantitative","scale":{"domain":[-0.0405,1.142],"nice":false,"zero":false},"axis":{"title":"At model","values":[0,0.2,0.4,0.6,0.8,1.0],"format":".1f","labelAngle":-90,"labelAlign":"center","labelBaseline":"bottom","tickSize":8,"labelPadding":9,"titlePadding":14}},"y2":{"field":"hi"}}},
{"mark":{"type":"tick","orient":"horizontal","size":5,"thickness":1,"color":"black"},"encoding":{"y":{"field":"lo","type":"quantitative"}}},
{"mark":{"type":"tick","orient":"horizontal","size":5,"thickness":1,"color":"black"},"encoding":{"y":{"field":"hi","type":"quantitative"}}},
{"mark":{"type":"bar","size":9,"stroke":"#222222","strokeWidth":1},"encoding":{"y":{"field":"q1","type":"quantitative"},"y2":{"field":"q3"},"fill":{"condition":{"test":"datum.yr === 2000","value":"#999999"},"value":"white"}}},
{"mark":{"type":"tick","orient":"horizontal","size":9,"thickness":3,"color":"black"},"encoding":{"y":{"field":"md","type":"quantitative"}}},
{"transform":[{"flatten":["o"]}],"mark":{"type":"circle","size":5,"color":"black","opacity":1,"clip":true},"encoding":{"y":{"field":"o","type":"quantitative"}}}
]},
{"width":581,"height":350,"title":{"text":"RMSE of predicted states, Robust","offset":17},"data":{"name":"tr"},
"encoding":{"x":{"field":"yr","type":"quantitative","scale":{"domain":[1964.5,2018.5],"nice":false,"zero":false},"axis":{"title":null,"values":[1967,1968,1969,1970,1971,1972,1973,1974,1975,1976,1977,1978,1979,1980,1981,1982,1983,1984,1985,1986,1987,1988,1989,1990,1991,1992,1993,1994,1995,1996,1997,1998,1999,2000,2001,2002,2003,2004,2005,2006,2007,2008,2009,2010,2011,2012,2013,2014,2015,2016],"labels":false,"tickSize":{"condition":{"test":"datum.value % 5 === 0","value":11},"value":6}}}},
"layer":[
{"mark":{"type":"rule","strokeDash":[4,3],"color":"black","strokeWidth":1},"encoding":{"y":{"field":"lo","type":"quantitative","scale":{"domain":[-0.0405,1.142],"nice":false,"zero":false},"axis":{"title":null,"values":[0,0.2,0.4,0.6,0.8,1.0],"labels":false,"tickSize":8}},"y2":{"field":"hi"}}},
{"mark":{"type":"tick","orient":"horizontal","size":5,"thickness":1,"color":"black"},"encoding":{"y":{"field":"lo","type":"quantitative"}}},
{"mark":{"type":"tick","orient":"horizontal","size":5,"thickness":1,"color":"black"},"encoding":{"y":{"field":"hi","type":"quantitative"}}},
{"mark":{"type":"bar","size":9,"stroke":"#222222","strokeWidth":1},"encoding":{"y":{"field":"q1","type":"quantitative"},"y2":{"field":"q3"},"fill":{"condition":{"test":"datum.yr === 2000","value":"#999999"},"value":"white"}}},
{"mark":{"type":"tick","orient":"horizontal","size":9,"thickness":3,"color":"black"},"encoding":{"y":{"field":"md","type":"quantitative"}}},
{"transform":[{"flatten":["o"]}],"mark":{"type":"circle","size":5,"color":"black","opacity":1,"clip":true},"encoding":{"y":{"field":"o","type":"quantitative"}}}
]},
{"width":581,"height":351,"data":{"name":"bl"},
"encoding":{"x":{"field":"yr","type":"quantitative","scale":{"domain":[1964.5,2018.5],"nice":false,"zero":false},"axis":{"title":null,"values":[1967,1968,1969,1970,1971,1972,1973,1974,1975,1976,1977,1978,1979,1980,1981,1982,1983,1984,1985,1986,1987,1988,1989,1990,1991,1992,1993,1994,1995,1996,1997,1998,1999,2000,2001,2002,2003,2004,2005,2006,2007,2008,2009,2010,2011,2012,2013,2014,2015,2016],"format":"d","labelExpr":"datum.value % 5 === 0 ? datum.label : ''","labelAngle":-30,"labelAlign":"right","labelBaseline":"middle","labelPadding":7,"labelOverlap":false,"labelFlush":false,"labelBound":false,"tickSize":{"condition":{"test":"datum.value % 5 === 0","value":11},"value":6}}}},
"layer":[
{"mark":{"type":"rule","strokeDash":[4,3],"color":"black","strokeWidth":1},"encoding":{"y":{"field":"lo","type":"quantitative","scale":{"domain":[-0.0415,1.148],"nice":false,"zero":false},"axis":{"title":"Under contamination","values":[0,0.2,0.4,0.6,0.8,1.0],"format":".1f","labelAngle":-90,"labelAlign":"center","labelBaseline":"bottom","tickSize":8,"labelPadding":9,"titlePadding":14}},"y2":{"field":"hi"}}},
{"mark":{"type":"tick","orient":"horizontal","size":5,"thickness":1,"color":"black"},"encoding":{"y":{"field":"lo","type":"quantitative"}}},
{"mark":{"type":"tick","orient":"horizontal","size":5,"thickness":1,"color":"black"},"encoding":{"y":{"field":"hi","type":"quantitative"}}},
{"mark":{"type":"bar","size":9,"stroke":"#222222","strokeWidth":1},"encoding":{"y":{"field":"q1","type":"quantitative"},"y2":{"field":"q3"},"fill":{"condition":{"test":"datum.yr === 2000","value":"#999999"},"value":"white"}}},
{"mark":{"type":"tick","orient":"horizontal","size":9,"thickness":3,"color":"black"},"encoding":{"y":{"field":"md","type":"quantitative"}}},
{"transform":[{"flatten":["o"]}],"mark":{"type":"circle","size":5,"color":"black","opacity":1,"clip":true},"encoding":{"y":{"field":"o","type":"quantitative"}}}
]},
{"width":581,"height":351,"data":{"name":"br"},
"encoding":{"x":{"field":"yr","type":"quantitative","scale":{"domain":[1964.5,2018.5],"nice":false,"zero":false},"axis":{"title":null,"values":[1967,1968,1969,1970,1971,1972,1973,1974,1975,1976,1977,1978,1979,1980,1981,1982,1983,1984,1985,1986,1987,1988,1989,1990,1991,1992,1993,1994,1995,1996,1997,1998,1999,2000,2001,2002,2003,2004,2005,2006,2007,2008,2009,2010,2011,2012,2013,2014,2015,2016],"format":"d","labelExpr":"datum.value % 5 === 0 ? datum.label : ''","labelAngle":-30,"labelAlign":"right","labelBaseline":"middle","labelPadding":7,"labelOverlap":false,"labelFlush":false,"labelBound":false,"tickSize":{"condition":{"test":"datum.value % 5 === 0","value":11},"value":6}}}},
"layer":[
{"mark":{"type":"rule","strokeDash":[4,3],"color":"black","strokeWidth":1},"encoding":{"y":{"field":"lo","type":"quantitative","scale":{"domain":[-0.0415,1.148],"nice":false,"zero":false},"axis":{"title":null,"values":[0,0.2,0.4,0.6,0.8,1.0],"labels":false,"tickSize":8}},"y2":{"field":"hi"}}},
{"mark":{"type":"tick","orient":"horizontal","size":5,"thickness":1,"color":"black"},"encoding":{"y":{"field":"lo","type":"quantitative"}}},
{"mark":{"type":"tick","orient":"horizontal","size":5,"thickness":1,"color":"black"},"encoding":{"y":{"field":"hi","type":"quantitative"}}},
{"mark":{"type":"bar","size":9,"stroke":"#222222","strokeWidth":1},"encoding":{"y":{"field":"q1","type":"quantitative"},"y2":{"field":"q3"},"fill":{"condition":{"test":"datum.yr === 2000","value":"#999999"},"value":"white"}}},
{"mark":{"type":"tick","orient":"horizontal","size":9,"thickness":3,"color":"black"},"encoding":{"y":{"field":"md","type":"quantitative"}}},
{"transform":[{"flatten":["o"]}],"mark":{"type":"circle","size":5,"color":"black","opacity":1,"clip":true},"encoding":{"y":{"field":"o","type":"quantitative"}}}
]}
]
}
